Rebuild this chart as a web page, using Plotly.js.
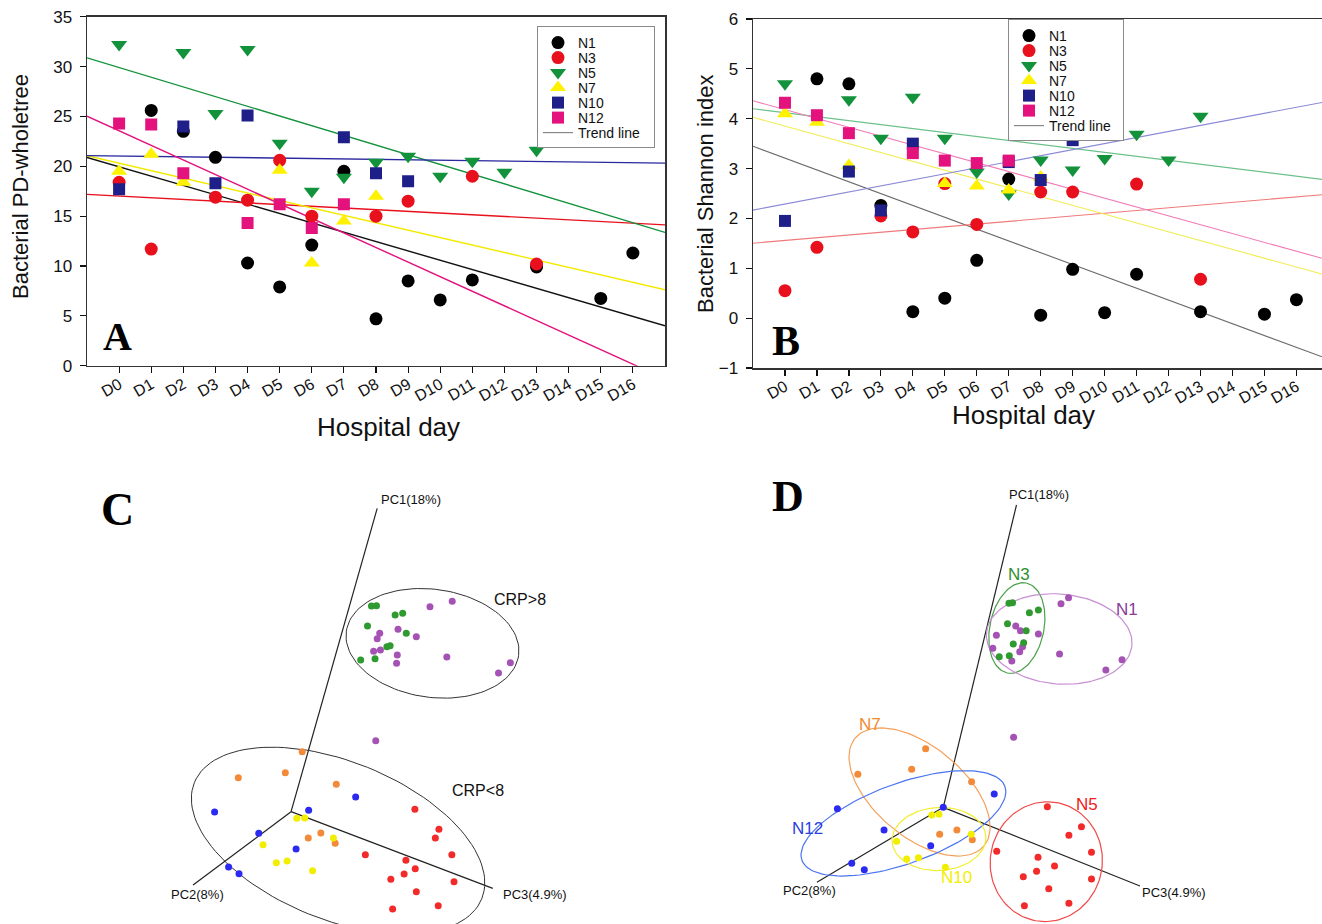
<!DOCTYPE html>
<html><head><meta charset="utf-8">
<script src="https://cdn.plot.ly/plotly-3.0.1.min.js"></script>
<style>html,body{margin:0;padding:0;background:#fff}</style>
</head><body><div id="chart" style="width:1322px;height:924px"></div>
<script>
// ---------- categories ----------
const dayLabels = ['D0','D1','D2','D3','D4','D5','D6','D7','D8','D9','D10','D11','D12','D13','D14','D15','D16'];
const dayValues = [0,1,2,3,4,5,6,7,8,9,10,11,12,13,14,15,16];
const patients = ['N1','N3','N5','N7','N10','N12'];

// ---------- Panel A: Bacterial PD-wholetree ----------
const a_N1_day = [1,2,3,4,5,6,7,8,9,10,11,13,15,16];
const a_N1_val = [25.6,23.5,20.9,10.3,7.9,12.1,19.5,4.7,8.5,6.6,8.6,9.9,6.75,11.3];
const a_N3_day = [0,1,3,4,5,6,8,9,11,13];
const a_N3_val = [18.4,11.7,16.9,16.6,20.6,15.0,15.0,16.5,19.0,10.2];
const a_N5_day = [0,2,3,4,5,6,7,8,9,10,11,12,13];
const a_N5_val = [32.2,31.4,25.3,31.7,22.3,17.5,18.9,20.4,21.0,19.0,20.5,19.4,21.6];
const a_N7_day = [0,1,2,5,6,7,8];
const a_N7_val = [19.5,21.2,18.4,19.6,10.3,14.5,17.0];
const a_N10_day = [0,2,3,4,7,8,9];
const a_N10_val = [17.7,24.0,18.3,25.1,22.9,19.3,18.5];
const a_N12_day = [0,1,2,4,5,6,7];
const a_N12_val = [24.3,24.2,19.3,14.3,16.2,13.8,16.2];

// ---------- Panel B: Bacterial Shannon index ----------
const b_N1_day = [1,2,3,4,5,6,7,8,9,10,11,13,15,16];
const b_N1_val = [4.80,4.70,2.26,0.13,0.40,1.16,2.79,0.06,0.98,0.11,0.88,0.13,0.08,0.37];
const b_N3_day = [0,1,3,4,5,6,8,9,11,13];
const b_N3_val = [0.55,1.42,2.05,1.73,2.70,1.88,2.53,2.53,2.69,0.78];
const b_N5_day = [0,2,3,4,5,6,7,8,9,10,11,12,13];
const b_N5_val = [4.70,4.38,3.61,4.43,3.61,2.93,2.49,3.17,2.97,3.20,3.69,3.17,4.05];
const b_N7_day = [0,1,2,5,6,7,8];
const b_N7_val = [4.10,3.93,3.06,2.70,2.65,2.57,2.83];
const b_N10_day = [0,2,3,4,7,8,9];
const b_N10_val = [1.95,2.94,2.16,3.50,3.13,2.77,3.57];
const b_N12_day = [0,1,2,4,5,6,7];
const b_N12_val = [4.32,4.07,3.71,3.31,3.16,3.11,3.16];

// ---------- Panel C: PCoA by CRP (projected scores, arbitrary units) ----------
const c_N3_x = [812,826,878,899,801,909,855,864,782,822];
const c_N3_y = [408,407,435,430,468,490,530,527,570,566];
const c_N1_x = [975,1037,835,828,886,937,818,837,884,882,1022,1199,1166,824];
const c_N1_y = [410,394,490,506,478,500,544,540,555,580,561,578,609,812];
const c_N7_x = [619,441,572,714,671,636,711];
const c_N7_y = [845,923,908,943,1089,1104,1120];
const c_N12_x = [375,768,637,498,602,414,443];
const c_N12_y = [1026,981,1021,1090,1137,1191,1211];
const c_N10_x = [604,626,510,706,547,577,648];
const c_N10_y = [1045,1044,1124,1104,1178,1173,1202];
const c_N5_x = [933,1000,990,795,1036,908,934,903,866,1042,937,998,871];
const c_N5_y = [1018,1078,1104,1154,1154,1171,1196,1212,1228,1235,1265,1307,1317];
const c_axisOrigin = [588,1025];
const c_axisEnds_x = [828,315,1150];
const c_axisEnds_y = [115,1245,1255];
const c_groupNames = ['CRP>8','CRP<8'];
const c_ell_cx = [982,719];
const c_ell_cy = [520,1112];
const c_ell_a = [87,155];
const c_ell_b = [54,79];
const c_ell_ang = [-8,-22];

// ---------- Panel D: PCoA by patient ----------
const d_N3_x = [805,815,862,887,801,853,817,846,778,806];
const d_N3_y = [400,398,428,420,461,482,522,518,560,557];
const d_N1_x = [950,971,770,824,837,887,760,835,843,813,946,1120,1075,818];
const d_N1_y = [401,383,496,468,482,492,535,545,530,573,552,569,600,802];
const d_N7_x = [573,534,384,701,612,660,703];
const d_N7_y = [836,898,913,935,1093,1080,1109];
const d_N12_x = [327,764,622,457,587,367,402];
const d_N12_y = [1016,972,1012,1080,1127,1180,1199];
const d_N10_x = [590,610,492,700,520,553,628];
const d_N10_y = [1035,1033,1114,1093,1167,1163,1192];
const d_N5_x = [912,1007,972,771,1035,886,932,882,845,1035,916,972,848];
const d_N5_y = [1010,1070,1096,1144,1147,1162,1188,1204,1220,1227,1256,1300,1307];
const d_axisOrigin = [622,1012];
const d_axisEnds_x = [826,270,1170];
const d_axisEnds_y = [105,1237,1248];
const d_ellNames = ['N3','N1','N7','N12','N10','N5'];
const d_ell_cx = [827,945,556,511,610,909];
const d_ell_cy = [474,507,966,1060,1107,1175];
const d_ell_a = [46,73,84,108,47,60];
const d_ell_b = [27,45,45,40,31.5,56];
const d_ell_ang = [78,-5,-40,20,3,80];
const d_label_x = [832,1135,418,245,660,1023];
const d_label_y = [312,418,762,1075,1222,1003];

const pcLabels = ['PC1(18%)','PC2(8%)','PC3(4.9%)'];

// ---------- styles ----------
const FONT = 'Liberation Sans, Arial, sans-serif';
const SERIF = 'Liberation Serif, Times New Roman, serif';
const symA = ['circle','circle','triangle-down','triangle-up','square','square'];
const sizeA = [13,13,14,14,12,12];
const colA = ['#000000','#e8101c','#13923c','#fff200','#1f1f8a','#e3127d'];
const lineColA = ['#111111','#e8101c','#13923c','#f2ea00','#2a2aa0','#e3127d'];
const lineColB = ['#6a6a6a','#f07a7a','#6cc08a','#f0ec50','#8a8ad6','#f27ab8'];
const pcoaCol = {N1:'#a552b5',N3:'#2f9a2f',N5:'#f22a2a',N7:'#f28a3a',N10:'#f2ee00',N12:'#2a2af0'};
const ellCol = {N1:'#c78fd3',N3:'#4aa04a',N5:'#f04a4a',N7:'#f5a05a',N10:'#f2ee30',N12:'#4a74f0'};
const lblCol = {N1:'#8a3a9a',N3:'#2f8f2f',N5:'#f02020',N7:'#f08a30',N10:'#f2ee00',N12:'#2a40e0'};

const xRangeA = [-1,17], xRangeB = [-1,16.8];
const xRangeC = [-222.9,1618.7], xRangeD = [-164.4,1677.2], yRangeCD = [1362,0];
const domA = {x:[87/1322,665/1322], y:[1-365.7/924,1-16.7/924]};
const domB = {x:[753/1322,1], y:[1-368/924,1-19/924]};
const domC = {x:[0,0.5], y:[0,454/924]};
const domD = {x:[0.5,1], y:[0,454/924]};

function linfit(xs, ys){
  const n = xs.length;
  const mx = xs.reduce((s,v)=>s+v,0)/n, my = ys.reduce((s,v)=>s+v,0)/n;
  let sxy=0, sxx=0;
  for(let i=0;i<n;i++){ sxy += (xs[i]-mx)*(ys[i]-my); sxx += (xs[i]-mx)*(xs[i]-mx); }
  const k = sxy/sxx; return {k:k, b: my - k*mx};
}

const dataA = [[a_N1_day,a_N1_val],[a_N3_day,a_N3_val],[a_N5_day,a_N5_val],[a_N7_day,a_N7_val],[a_N10_day,a_N10_val],[a_N12_day,a_N12_val]];
const dataB = [[b_N1_day,b_N1_val],[b_N3_day,b_N3_val],[b_N5_day,b_N5_val],[b_N7_day,b_N7_val],[b_N10_day,b_N10_val],[b_N12_day,b_N12_val]];

const traces = [];
function addTimePanel(data, xr, xa, ya, lineCols, legendId, lw){
  data.forEach((d,i)=>{
    const f = linfit(d[0], d[1]);
    traces.push({x:[xr[0],xr[1]], y:[f.b+f.k*xr[0], f.b+f.k*xr[1]], mode:'lines', xaxis:xa, yaxis:ya,
      line:{color:lineCols[i], width:lw}, showlegend:false, hoverinfo:'skip', legend:legendId});
  });
  data.forEach((d,i)=>{
    traces.push({x:d[0], y:d[1], mode:'markers', name:patients[i], xaxis:xa, yaxis:ya, legend:legendId,
      marker:{symbol:symA[i], size:sizeA[i], color:colA[i], line:{width:0}}});
  });
  traces.push({x:[null], y:[null], mode:'lines', name:'Trend line', xaxis:xa, yaxis:ya, legend:legendId,
    line:{color:'#888888', width:1.2}});
}
addTimePanel(dataA, xRangeA, 'x', 'y', lineColA, 'legend', 1.4);
addTimePanel(dataB, xRangeB, 'x2', 'y2', lineColB, 'legend2', 1.1);

function kScale(xr, dom){ return Math.abs(xr[1]-xr[0])/(1322*(dom[1]-dom[0])); }
function kScaleY(yr, dom){ return Math.abs(yr[1]-yr[0])/(924*(dom[1]-dom[0])); }
function ellipse(cx, cy, a, b, angDeg, kx, ky){
  const th = angDeg*Math.PI/180, xs=[], ys=[];
  for(let j=0;j<=120;j++){
    const t = 2*Math.PI*j/120;
    const dx = a*Math.cos(t)*Math.cos(th) - b*Math.sin(t)*Math.sin(th);
    const dy = a*Math.cos(t)*Math.sin(th) + b*Math.sin(t)*Math.cos(th);
    xs.push(cx + dx*kx); ys.push(cy - dy*ky);
  }
  return [xs, ys];
}
function pcAxes(origin, ex, ey, xa, ya){
  const xs=[], ys=[];
  ex.forEach((v,i)=>{ xs.push(origin[0], v, null); ys.push(origin[1], ey[i], null); });
  traces.push({x:xs, y:ys, mode:'lines', xaxis:xa, yaxis:ya, line:{color:'#222', width:1.2}, showlegend:false, hoverinfo:'skip'});
}

// Panel C
pcAxes(c_axisOrigin, c_axisEnds_x, c_axisEnds_y, 'x3', 'y3');
const kxC = kScale(xRangeC, domC.x), kyC = kScaleY(yRangeCD, domC.y);
c_groupNames.forEach((g,i)=>{
  const e = ellipse(c_ell_cx[i], c_ell_cy[i], c_ell_a[i], c_ell_b[i], c_ell_ang[i], kxC, kyC);
  traces.push({x:e[0], y:e[1], mode:'lines', xaxis:'x3', yaxis:'y3', line:{color:'#333', width:1}, showlegend:false, hoverinfo:'skip'});
});
const cSets = {N1:[c_N1_x,c_N1_y], N3:[c_N3_x,c_N3_y], N7:[c_N7_x,c_N7_y], N12:[c_N12_x,c_N12_y], N10:[c_N10_x,c_N10_y], N5:[c_N5_x,c_N5_y]};
Object.keys(cSets).forEach(p=>{
  traces.push({x:cSets[p][0], y:cSets[p][1], mode:'markers', xaxis:'x3', yaxis:'y3', showlegend:false, name:p,
    marker:{size:7, color:pcoaCol[p], line:{width:0}}});
});

// Panel D
pcAxes(d_axisOrigin, d_axisEnds_x, d_axisEnds_y, 'x4', 'y4');
const kxD = kScale(xRangeD, domD.x), kyD = kScaleY(yRangeCD, domD.y);
d_ellNames.forEach((g,i)=>{
  const e = ellipse(d_ell_cx[i], d_ell_cy[i], d_ell_a[i], d_ell_b[i], d_ell_ang[i], kxD, kyD);
  traces.push({x:e[0], y:e[1], mode:'lines', xaxis:'x4', yaxis:'y4', line:{color:ellCol[g], width:1.2}, showlegend:false, hoverinfo:'skip'});
});
const dSets = {N1:[d_N1_x,d_N1_y], N3:[d_N3_x,d_N3_y], N7:[d_N7_x,d_N7_y], N12:[d_N12_x,d_N12_y], N10:[d_N10_x,d_N10_y], N5:[d_N5_x,d_N5_y]};
Object.keys(dSets).forEach(p=>{
  traces.push({x:dSets[p][0], y:dSets[p][1], mode:'markers', xaxis:'x4', yaxis:'y4', showlegend:false, name:p,
    marker:{size:7, color:pcoaCol[p], line:{width:0}}});
});

// ---------- annotations ----------
const ann = [];
function paperText(text, px, py, size, opts){
  ann.push(Object.assign({text:text, xref:'paper', yref:'paper', x:px/1322, y:1-py/924, showarrow:false,
    xanchor:'center', yanchor:'middle', font:{family:FONT, size:size, color:'#111'}}, opts||{}));
}
paperText('Bacterial PD-wholetree', 21, 187, 22, {textangle:-90});
paperText('Hospital day', 388, 427, 26);
paperText('Bacterial Shannon index', 706, 194, 22, {textangle:-90});
paperText('Hospital day', 1023, 415, 26);
paperText('<b>A</b>', 117, 336, 40, {font:{family:SERIF, size:40, color:'#000'}});
paperText('<b>B</b>', 786, 341, 42, {font:{family:SERIF, size:42, color:'#000'}});
paperText('<b>C</b>', 117, 509, 46, {font:{family:SERIF, size:46, color:'#000'}});
paperText('<b>D</b>', 788, 497, 44, {font:{family:SERIF, size:44, color:'#000'}});

function dataText(text, x, y, xa, ya, size, color, anchor){
  ann.push({text:text, xref:xa, yref:ya, x:x, y:y, showarrow:false, xanchor:anchor||'center', yanchor:'middle',
    font:{family:FONT, size:size, color:color}});
}
// C labels
dataText(pcLabels[0], 922, 90, 'x3', 'y3', 13, '#111');
dataText(pcLabels[1], 326, 1272, 'x3', 'y3', 13, '#111');
dataText(pcLabels[2], 1268, 1272, 'x3', 'y3', 13, '#111');
dataText(c_groupNames[0], 1225, 388, 'x3', 'y3', 16, '#111');
dataText(c_groupNames[1], 1110, 960, 'x3', 'y3', 16, '#111');
// D labels
dataText(pcLabels[0], 888, 75, 'x4', 'y4', 13, '#111');
dataText(pcLabels[1], 250, 1260, 'x4', 'y4', 13, '#111');
dataText(pcLabels[2], 1265, 1268, 'x4', 'y4', 13, '#111');
d_ellNames.forEach((g,i)=> dataText(g, d_label_x[i], d_label_y[i], 'x4', 'y4', 17, lblCol[g]));

// ---------- axes ----------
function timeX(dom, xr, anchor){
  return {domain:dom, range:xr, anchor:anchor, tickmode:'array', tickvals:dayValues, ticktext:dayLabels,
    tickangle:-30, ticks:'outside', ticklen:6, tickwidth:1.2, tickcolor:'#111', showline:true, linecolor:'#333',
    linewidth:1.5, mirror:true, showgrid:false, zeroline:false, ticklabelstandoff:-4,
    tickfont:{family:FONT, size:16, color:'#111'}};
}
function timeY(dom, yr, dtick, anchor){
  return {domain:dom, range:yr, anchor:anchor, dtick:dtick, tick0:0, ticks:'outside', ticklen:6, tickwidth:1.2,
    tickcolor:'#111', showline:true, linecolor:'#333', linewidth:1.5, mirror:true, showgrid:false, zeroline:false,
    tickfont:{family:FONT, size:17, color:'#111'}, ticklabelstandoff:4};
}
const hidden = (dom, r, anchor)=>({domain:dom, range:r, anchor:anchor, visible:false, showgrid:false, zeroline:false});

const legendStyle = {bgcolor:'#fff', bordercolor:'#8a8a8a', borderwidth:1, font:{family:FONT, size:14, color:'#111'},
  xanchor:'left', yanchor:'top', tracegroupgap:0, itemwidth:30};

const layout = {
  width:1322, height:924, margin:{l:0,r:0,t:0,b:0}, paper_bgcolor:'#fff', plot_bgcolor:'#fff',
  font:{family:FONT}, showlegend:true,
  xaxis: timeX(domA.x, xRangeA, 'y'),
  yaxis: timeY(domA.y, [0,35], 5, 'x'),
  xaxis2: timeX(domB.x, xRangeB, 'y2'),
  yaxis2: timeY(domB.y, [-1,6], 1, 'x2'),
  xaxis3: hidden(domC.x, xRangeC, 'y3'),
  yaxis3: hidden(domC.y, yRangeCD, 'x3'),
  xaxis4: hidden(domD.x, xRangeD, 'y4'),
  yaxis4: hidden(domD.y, yRangeCD, 'x4'),
  legend: Object.assign({x:537/1322, y:1-26/924}, legendStyle),
  legend2: Object.assign({x:1008/1322, y:1-19/924}, legendStyle),
  annotations: ann
};

// tighten legend rows to match the compact key of the original figure
function compactLegend(cls, step, boxW){
  const g = document.querySelector('g.' + cls);
  if(!g) return;
  const items = g.querySelectorAll('g.traces');
  let y0 = null;
  items.forEach((it,i)=>{
    const m = /translate\(\s*([-\d.e]+)[ ,]+([-\d.e]+)\s*\)/.exec(it.getAttribute('transform') || '');
    if(!m) return;
    if(y0 === null) y0 = parseFloat(m[2]);
    it.setAttribute('transform', 'translate(' + m[1] + ',' + (y0 + i*step) + ')');
  });
  if(y0 === null) return;
  const hgt = 2*y0 + (items.length-1)*step - 2;
  const bg = g.querySelector('rect.bg');
  if(bg){ bg.setAttribute('height', hgt); bg.setAttribute('width', boxW); }
}
Plotly.newPlot('chart', traces, layout, {staticPlot:true, displayModeBar:false}).then(()=>{
  compactLegend('legend', 15, 117);
  compactLegend('legend2', 15, 115);
});
</script></body></html>
